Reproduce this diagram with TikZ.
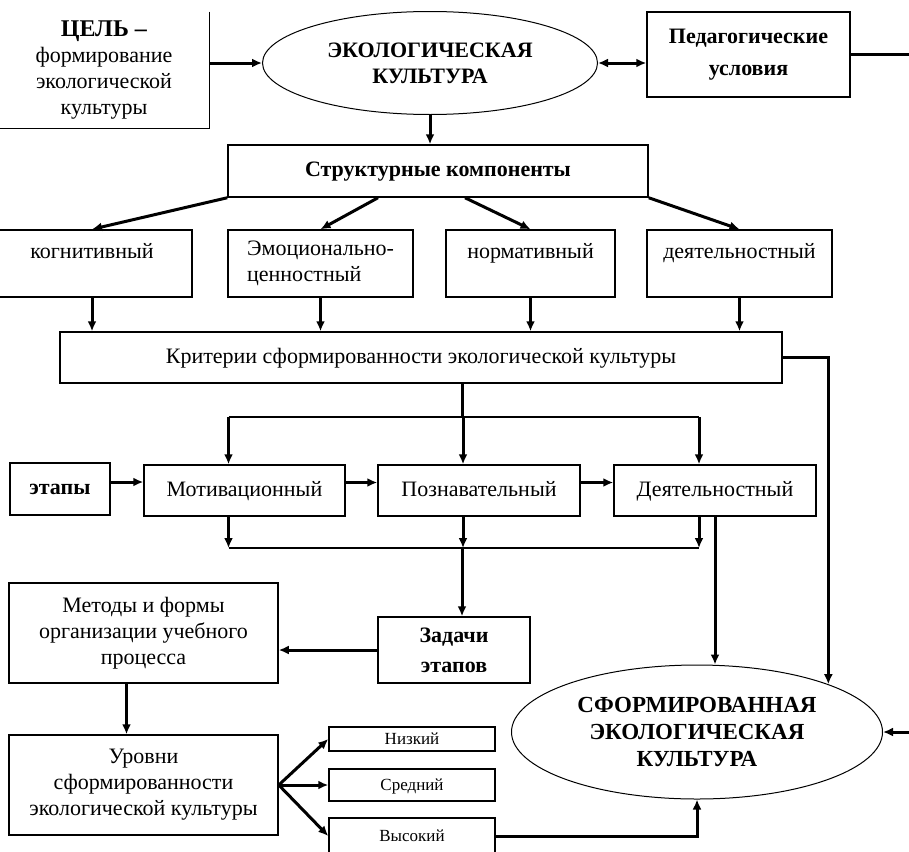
\documentclass[tikz,border=0pt]{standalone}
\usepackage{fontspec}
\setmainfont{Liberation Serif}
\usetikzlibrary{arrows.meta,shapes.geometric}

\begin{document}
\begin{tikzpicture}[x=0.5pt,y=-0.5pt,
    >={Latex[length=5pt,width=4.5pt]},
    sz/.style 2 args={minimum width={(#1)*0.5pt},minimum height={(#2)*0.5pt}},
    txt/.style={inner sep=0pt,font=\fontsize{11}{13}\selectfont},
    box/.style={txt,draw,line width=0.75pt},
    line/.style={text height=8pt,text depth=2.5pt},
    hd/.style={font=\fontsize{11}{13}\selectfont\bfseries},
    oval/.style={draw,ellipse,line width=0.5pt,inner sep=0pt,align=center},
    lvl/.style={box,line,font=\fontsize{8.5}{10}\selectfont},
    con/.style={line width=1.5pt},
    thin/.style={line width=0.75pt}]
   \path[use as bounding box,clip] (0,0) rectangle (909,851);

   \node[txt,align=center,sz={210}{116}] (cel) at (104,70)
     {\textbf{\fontsize{12}{14}\selectfont ЦЕЛЬ –}\\формирование\\экологической\\культуры};
   \draw[thin] (cel.north east) -- (cel.south east) -- (cel.south west);
   \node[oval,hd,sz={335}{103}] (eko) at (430,63) {ЭКОЛОГИЧЕСКАЯ\\КУЛЬТУРА};
   \node[box,hd,align=center,sz={203}{85}] (ped) at (748.5,54.5) {Педагогические\\[3pt]условия};
   \node[box,hd,line,sz={420}{52}] (str) at (438,171) {Структурные компоненты};

   \node[box,align=center,sz={200}{67}] (kog) at (92,263.5) {когнитивный\\\mbox{}};
   \node[box,align=left,sz={185}{67}] (emo) at (320.5,263.5) {Эмоционально-\\ценностный};
   \node[box,align=center,sz={169}{67}] (nor) at (530.5,263.5) {нормативный\\\mbox{}};
   \node[box,align=center,sz={185}{67}] (dey) at (739.5,263.5) {деятельностный\\\mbox{}};
   \node[box,line,sz={722}{51}] (kri) at (421,357.5) {Критерии сформированности экологической культуры};

   \node[box,hd,line,sz={100}{52}] (eta) at (60,489) {этапы};
   \node[box,line,sz={201}{51}] (mot) at (244.5,490.5) {Мотивационный};
   \node[box,line,sz={202}{51}] (poz) at (479,490.5) {Познавательный};
   \node[box,line,sz={202}{51}] (dey2) at (715,490.5) {Деятельностный};
   \coordinate (sp) at (462,417);
   \coordinate (mg) at (462,548);

   \node[box,hd,align=center,sz={152}{66}] (zad) at (454,650) {Задачи\\[2pt]этапов};
   \node[box,align=center,sz={269}{100}] (met) at (143.5,633) {Методы и формы\\организации учебного\\процесса};
   \node[box,align=center,sz={269}{100}] (urv) at (143.5,785) {Уровни\\сформированности\\экологической культуры};
   \node[lvl,sz={166}{24}] (niz) at (412,739) {Низкий};
   \node[lvl,sz={166}{32}] (sre) at (412,785) {Средний};
   \node[lvl,sz={166}{36}] (vys) at (412,836) {Высокий};
   \node[oval,font=\fontsize{11.5}{13.5}\selectfont\bfseries,sz={371}{134}] (sfo) at (697,732)
     {СФОРМИРОВАННАЯ\\ЭКОЛОГИЧЕСКАЯ\\КУЛЬТУРА};

   \draw[con,->] (cel.east |- eko) -- (eko.west);
   \draw[con,<->] (eko.east) -- (eko.east -| ped.west);
   \draw[con,->] (ped.east) -- ++(80,0) |- (sfo.east);
   \draw[con,->] (eko.south) -- (eko.south |- str.north);
   \draw[con,->] (str.south west) -- (kog.north);
   \draw[con,->] ([xshift=-30pt]str.south) -- (emo.north);
   \draw[con,->] ([xshift=13.5pt]str.south) -- (nor.north);
   \draw[con,->] (str.south east) -- (dey.north);
   \foreach \n in {kog,emo,nor,dey}
     \draw[con,->] (\n.south) -- (\n.south |- kri.north);
   \draw[con] (sp |- kri.south) -- (sp);
   \draw[thin] ([xshift=-8pt]mot.north |- sp) -- ([xshift=-8pt]dey2.north |- sp);
   \draw[thin] ([xshift=-8pt]mot.south |- mg) -- ([xshift=-8pt]dey2.south |- mg);
   \foreach \n in {mot,poz,dey2} {
     \draw[con,->] ([xshift=-8pt]\n.north |- sp) -- ([xshift=-8pt]\n.north);
     \draw[con,->] ([xshift=-8pt]\n.south) -- ([xshift=-8pt]\n.south |- mg);
   }
   \draw[con,->] ([yshift=3.5pt]eta.east) -- ([yshift=3.5pt]eta.east -| mot.west);
   \draw[con,->] ([yshift=4pt]mot.east) -- ([yshift=4pt]mot.east -| poz.west);
   \draw[con,->] ([yshift=4pt]poz.east) -- ([yshift=4pt]poz.east -| dey2.west);
   \draw[con,->] (mg) -- (mg |- zad.north);
   \draw[con,->] (dey2.south) -- (dey2.south |- sfo.north);
   \draw[con,->] (kri.east) -| (sfo.20);
   \draw[con,->] (zad.west) -- (zad.west -| met.east);
   \draw[con,->] ([xshift=-8.5pt]met.south) -- ([xshift=-8.5pt]urv.north);
   \foreach \n in {niz,sre,vys}
     \draw[con,->] (urv.east) -- (\n.west);
   \draw[con,->] (vys.east) -| (sfo.south);
\end{tikzpicture}
\end{document}
